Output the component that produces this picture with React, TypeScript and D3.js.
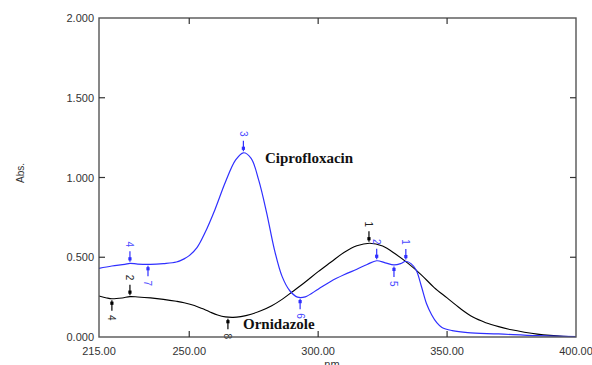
import React from "react";
import * as d3 from "d3";

const ciproNm = [215, 220, 225, 227, 230, 235, 240, 245, 248, 250, 253, 256, 260, 264, 268, 271, 274, 277, 280, 283, 286, 289, 292, 295, 300, 305, 310, 315, 319, 322.7, 326, 329.4, 332, 334, 336, 338, 340, 342, 344, 346, 348, 352, 358, 370, 385, 400];
const ciproAbs = [0.43, 0.445, 0.455, 0.462, 0.457, 0.455, 0.46, 0.47, 0.49, 0.51, 0.56, 0.65, 0.8, 0.97, 1.11, 1.155, 1.12, 0.98, 0.78, 0.55, 0.38, 0.29, 0.25, 0.252, 0.3, 0.35, 0.39, 0.425, 0.455, 0.478, 0.465, 0.452, 0.46, 0.475, 0.46, 0.42, 0.32, 0.21, 0.14, 0.09, 0.06, 0.04, 0.027, 0.019, 0.008, 0.002];

const ornNm = [215, 218, 220, 224, 227, 230, 235, 240, 245, 248, 252, 255, 258, 261, 264, 267, 270, 274, 278, 282, 286, 290, 295, 300, 305, 310, 315, 320, 325, 330, 335, 340, 345, 350, 355, 360, 365, 370, 375, 380, 385, 390, 395, 400];
const ornAbs = [0.257, 0.245, 0.24, 0.245, 0.253, 0.251, 0.245, 0.236, 0.224, 0.215, 0.198, 0.178, 0.157, 0.138, 0.126, 0.123, 0.128, 0.143, 0.166, 0.196, 0.236, 0.284, 0.345, 0.41, 0.47, 0.53, 0.572, 0.588, 0.57, 0.52, 0.46, 0.39, 0.31, 0.245, 0.18, 0.125, 0.09, 0.065, 0.045, 0.03, 0.018, 0.01, 0.005, 0.003];

const ciproMarkNm = [227, 234, 271, 293, 322.7, 329.4, 334];
const ciproMarkAbs = [0.462, 0.456, 1.155, 0.25, 0.478, 0.452, 0.476];
const ciproMarkLbl = ["4", "7", "3", "6", "2", "5", "1"];
const ciproMarkUp = [true, false, true, false, true, false, true];

const ornMarkNm = [220, 227, 265, 319.7];
const ornMarkAbs = [0.24, 0.253, 0.124, 0.588];
const ornMarkLbl = ["4", "2", "8", "1"];
const ornMarkUp = [false, true, false, true];

const xTicks = [215, 250, 300, 350, 400];
const xTickLabels = ["215.00", "250.00", "300.00", "350.00", "400.00"];
const yTicks = [0, 0.5, 1, 1.5, 2];
const yTickLabels = ["0.000", "0.500", "1.000", "1.500", "2.000"];

const W = 592, H = 365;
const L = 99, R = 576, T = 18, B = 337;
const BLUE = "#2f2fff";
const BLUE_TXT = "#4a4aff";

export default function App() {
  const x = d3.scaleLinear().domain([215, 400]).range([L, R]);
  const y = d3.scaleLinear().domain([0, 2]).range([B, T]);
  const line = d3
    .line<[number, number]>()
    .x((d) => x(d[0]))
    .y((d) => y(d[1]))
    .curve(d3.curveCatmullRom.alpha(0.5));
  const cipro = ciproNm.map((n, i) => [n, ciproAbs[i]] as [number, number]);
  const orn = ornNm.map((n, i) => [n, ornAbs[i]] as [number, number]);

  const marker = (nm: number, v: number, lbl: string, up: boolean, color: string, tcolor: string, key: string) => {
    const px = x(nm);
    const py = y(v);
    const s = up ? -1 : 1;
    const y0 = py + s * 1.5;
    const y1 = py + s * 12;
    const dotY = py + s * 4.5;
    const ly = py + s * 19;
    return (
      <g key={key}>
        <line x1={px} y1={y0} x2={px} y2={y1} stroke={color} strokeWidth={1.2} />
        <rect x={px - 1.6} y={dotY - 1.6} width={3.2} height={3.2} fill={color} />
        <text
          x={0}
          y={0}
          transform={`translate(${px},${ly}) rotate(90)`}
          textAnchor="middle"
          dominantBaseline="central"
          fontFamily="Liberation Sans, Arial, sans-serif"
          fontSize={10}
          fill={tcolor}
        >
          {lbl}
        </text>
      </g>
    );
  };

  return (
    <svg width={W} height={H} style={{ position: "absolute", left: 0, top: 0, background: "#fff" }}>
      <rect x={0} y={0} width={W} height={H} fill="#fff" />
      <path d={line(orn) || ""} fill="none" stroke="#000" strokeWidth={1.1} />
      <path d={line(cipro) || ""} fill="none" stroke={BLUE} strokeWidth={1.2} />
      {ciproMarkNm.map((n, i) => marker(n, ciproMarkAbs[i], ciproMarkLbl[i], ciproMarkUp[i], BLUE, BLUE_TXT, "c" + i))}
      {ornMarkNm.map((n, i) => marker(n, ornMarkAbs[i], ornMarkLbl[i], ornMarkUp[i], "#000", "#222", "o" + i))}
      <rect x={L} y={T} width={R - L} height={B - T} fill="none" stroke="#555" strokeWidth={1.4} />
      {xTicks.slice(1, -1).map((t) => (
        <g key={"xt" + t}>
          <line x1={x(t)} x2={x(t)} y1={B} y2={B - 6} stroke="#333" strokeWidth={1.2} />
          <line x1={x(t)} x2={x(t)} y1={T} y2={T + 6} stroke="#333" strokeWidth={1.2} />
        </g>
      ))}
      {yTicks.slice(1, -1).map((t) => (
        <g key={"yt" + t}>
          <line x1={L} x2={L + 6} y1={y(t)} y2={y(t)} stroke="#333" strokeWidth={1.2} />
          <line x1={R} x2={R - 6} y1={y(t)} y2={y(t)} stroke="#333" strokeWidth={1.2} />
        </g>
      ))}
      {xTicks.map((t, i) => (
        <text
          key={"xl" + t}
          x={x(t)}
          y={355}
          textAnchor="middle"
          fontFamily="Liberation Sans, Arial, sans-serif"
          fontSize={11}
          fill="#333"
        >
          {xTickLabels[i]}
        </text>
      ))}
      {yTicks.map((t, i) => (
        <text
          key={"yl" + t}
          x={94}
          y={y(t)}
          textAnchor="end"
          dominantBaseline="central"
          fontFamily="Liberation Sans, Arial, sans-serif"
          fontSize={11}
          fill="#333"
        >
          {yTickLabels[i]}
        </text>
      ))}
      <text
        transform={`translate(20,173) rotate(-90)`}
        textAnchor="middle"
        dominantBaseline="central"
        fontFamily="Liberation Sans, Arial, sans-serif"
        fontSize={10}
        fill="#333"
      >
        Abs.
      </text>
      <text x={332} y={368} textAnchor="middle" fontFamily="Liberation Sans, Arial, sans-serif" fontSize={11} fill="#333">
        nm
      </text>
      <text x={265} y={163} fontFamily="Liberation Serif, Times New Roman, serif" fontWeight="bold" fontSize={15} fill="#111">
        Ciprofloxacin
      </text>
      <text x={243} y={329} fontFamily="Liberation Serif, Times New Roman, serif" fontWeight="bold" fontSize={15} fill="#111">
        Ornidazole
      </text>
    </svg>
  );
}
